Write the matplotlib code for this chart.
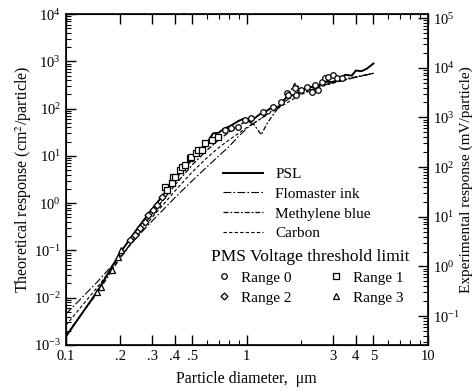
import numpy as np
import matplotlib
matplotlib.use("Agg")
import matplotlib.pyplot as plt
from matplotlib.ticker import FixedLocator, FixedFormatter, LogLocator, NullFormatter

plt.rcParams['font.family'] = ['Liberation Serif', 'DejaVu Serif']
plt.rcParams['mathtext.fontset'] = 'stix'

# ---- theoretical curves (left axis, cm^2/particle) ----
psl_d = [0.1, 0.15, 0.2, 0.25, 0.3, 0.35, 0.4, 0.45, 0.5, 0.55, 0.6, 0.65, 0.7,
         0.75, 0.8, 0.85, 0.9, 0.95, 1.0, 1.05, 1.1, 1.2, 1.3, 1.4, 1.5, 1.6,
         1.7, 1.8, 2.0, 2.2, 2.4, 2.6, 2.8, 3.0, 3.2, 3.5, 3.8, 4.0, 4.3, 4.6, 5.0]
psl_s = [1.5e-3, 0.014, 0.09, 0.3, 0.75, 1.6, 3.2, 5.5, 8.5, 13, 18, 30, 31,
         38, 42, 48, 55, 60, 56, 52, 62, 80, 92, 112, 105, 150,
         200, 190, 240, 280, 300, 330, 380, 350, 420, 520, 500, 640, 620, 700, 900]

flo_d = [0.1, 0.15, 0.2, 0.25, 0.3, 0.4, 0.5, 0.6, 0.7, 0.8, 0.9, 1.0, 1.1,
         1.2, 1.4, 1.7, 2.0, 2.5, 3.0, 4.0, 5.0]
flo_s = [4.5e-3, 0.022, 0.075, 0.2, 0.42, 1.3, 3.0, 5.8, 10, 16, 26, 38, 50,
         62, 95, 160, 210, 290, 360, 460, 560]

meth_d = [0.1, 0.15, 0.2, 0.3, 0.4, 0.5, 0.6, 0.7, 0.8, 0.9, 1.0, 1.1, 1.2,
          1.3, 1.4, 1.5, 1.7, 1.84, 2.0, 2.5, 3.0, 4.0, 5.0]
meth_s = [1.6e-3, 0.013, 0.07, 0.6, 2.4, 6.5, 13, 22, 32, 44, 55, 45, 28,
          50, 75, 107, 200, 340, 260, 300, 380, 470, 560]

carb_d = [0.1, 0.15, 0.2, 0.25, 0.3, 0.4, 0.5, 0.6, 0.7, 0.8, 0.9, 1.0, 1.2,
          1.5, 2.0, 2.5, 3.0, 4.0, 5.0]
carb_s = [2.6e-3, 0.017, 0.07, 0.21, 0.5, 1.8, 4.6, 9, 15, 22, 30, 40, 62,
          105, 200, 280, 350, 460, 560]

# ---- experimental points (right axis, mV/particle) ----
r3_d = [0.148, 0.157, 0.179, 0.195, 0.203]
r3_v = [0.31, 0.39, 0.85, 1.57, 2.1]

r2_d = [0.226, 0.241, 0.256, 0.273, 0.285, 0.304, 0.317, 0.338]
r2_v = [3.4, 4.3, 5.9, 8.0, 10.9, 13.7, 17.3, 25]

r1_d = [0.352, 0.36, 0.384, 0.392, 0.40, 0.426, 0.436, 0.454, 0.484, 0.494,
        0.527, 0.538, 0.562, 0.586, 0.638, 0.694]
r1_v = [40, 35, 47, 64, 64, 87, 102, 110, 150, 162,
        189, 221, 221, 301, 351, 409]

r0_d = [0.756, 0.822, 0.895, 0.975, 1.06, 1.23, 1.40, 1.55, 1.66, 1.69, 1.84,
        1.88, 2.00, 2.14, 2.28, 2.38, 2.48, 2.59, 2.70, 2.81, 3.00, 3.13, 3.34]
r0_v = [557, 603, 649, 885, 957, 1300, 1640, 2070, 3050, 2820, 3850,
        2820, 3550, 4140, 3290, 4480, 3560, 5230, 6110, 6580, 7120, 6110, 6110]

x_ticks = [0.1, 0.2, 0.3, 0.4, 0.5, 1, 3, 4, 5, 10]
x_labels = ['0.1', '.2', '.3', '.4', '.5', '1', '3', '4', '5', '10']

fig = plt.figure(figsize=(4.77, 3.92), dpi=100)
ax = fig.add_axes([0.138, 0.120, 0.759, 0.844])

ax.plot(psl_d, psl_s, color='k', lw=1.4, ls='-', label='PSL')
ax.plot(flo_d, flo_s, color='k', lw=0.8, ls=(0, (7, 2, 1.5, 2)), label='Flomaster ink')
ax.plot(meth_d, meth_s, color='k', lw=0.9, ls=(0, (4, 1.5, 1.5, 1.5)), label='Methylene blue')
ax.plot(carb_d, carb_s, color='k', lw=0.8, ls=(0, (3, 2)), label='Carbon')

ax.set_xscale('log')
ax.set_yscale('log')
ax.set_xlim(0.1, 10)
ax.set_ylim(1e-3, 1e4)

ax.xaxis.set_major_locator(FixedLocator(x_ticks))
ax.xaxis.set_major_formatter(FixedFormatter(x_labels))
ax.xaxis.set_minor_locator(FixedLocator([0.6, 0.7, 0.8, 0.9, 2, 6, 7, 8, 9]))
ax.xaxis.set_minor_formatter(NullFormatter())
ax.yaxis.set_major_locator(LogLocator(base=10, numticks=10))
ax.yaxis.set_minor_locator(LogLocator(base=10, subs=np.arange(2, 10), numticks=20))

ax.tick_params(which='both', direction='in', top=True, labelsize=10.5)
ax.tick_params(which='major', length=7, width=1.0)
ax.tick_params(which='minor', length=3.5, width=0.8)
for s in ax.spines.values():
    s.set_linewidth(1.2)

ax.set_xlabel('Particle diameter,  μm', fontsize=11.5, labelpad=6)
ax.set_ylabel('Theoretical response (cm$^2$/particle)', fontsize=11.5, labelpad=0)

ax2 = ax.twinx()
ax2.set_yscale('log')
ax2.set_ylim(10 ** -1.58, 10 ** 5.08)
ax2.plot(r0_d, r0_v, ls='none', marker='o', ms=4, mfc='white', mec='k', mew=0.9, label='Range 0')
ax2.plot(r1_d, r1_v, ls='none', marker='s', ms=4, mfc='white', mec='k', mew=0.9, label='Range 1')
ax2.plot(r2_d, r2_v, ls='none', marker='D', ms=3.5, mfc='white', mec='k', mew=0.9, label='Range 2')
ax2.plot(r3_d, r3_v, ls='none', marker='^', ms=4.5, mfc='white', mec='k', mew=0.9, label='Range 3')
ax2.yaxis.set_major_locator(LogLocator(base=10, numticks=10))
ax2.yaxis.set_minor_locator(LogLocator(base=10, subs=np.arange(2, 10), numticks=20))
ax2.tick_params(which='both', direction='in', labelsize=10.5)
ax2.tick_params(which='major', length=7, width=1.0)
ax2.tick_params(which='minor', length=3.5, width=0.8)
ax2.set_ylabel('Experimental response (mV/particle)', fontsize=11, labelpad=0)

leg1 = ax2.legend(handles=ax.get_lines(), loc='upper left', bbox_to_anchor=(0.41, 0.565),
                  frameon=False, fontsize=11, handlelength=2.6, labelspacing=0.4,
                  borderpad=0.1, handletextpad=0.8)
ax2.add_artist(leg1)
h = ax2.get_lines()
ax2.legend(handles=[h[0], h[2], h[1], h[3]], ncol=2, loc='upper left',
           bbox_to_anchor=(0.375, 0.318), frameon=False, fontsize=11,
           title='PMS Voltage threshold limit', title_fontsize=12.5,
           handlelength=1.0, columnspacing=2.4, labelspacing=0.4, borderpad=0.1,
           handletextpad=0.6)

fig.savefig('out.png', dpi=100)
